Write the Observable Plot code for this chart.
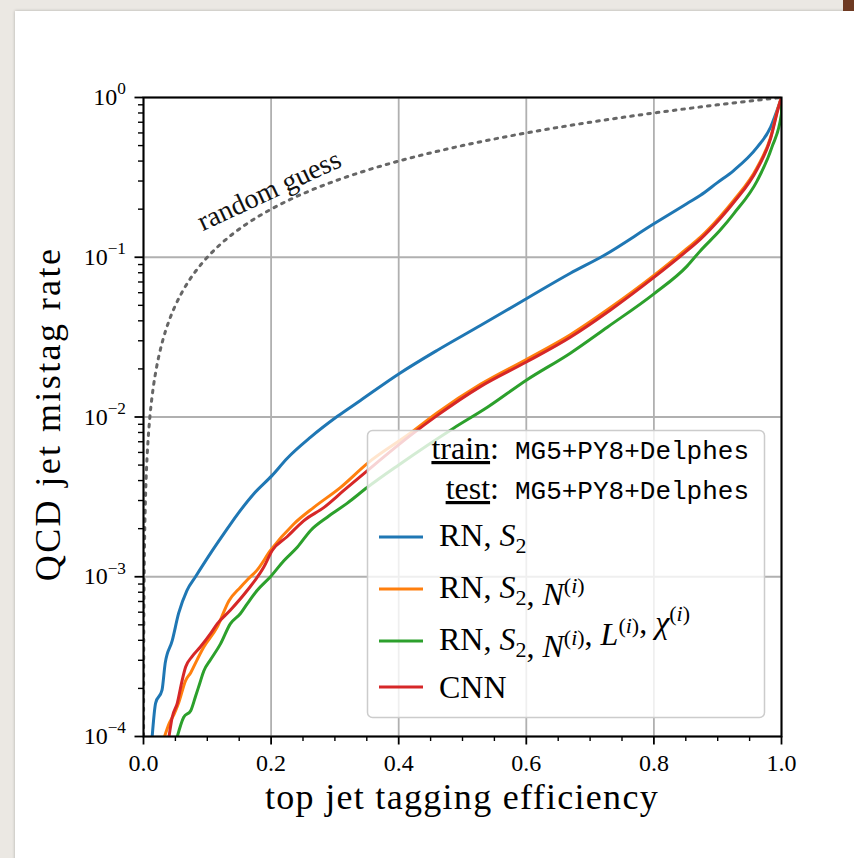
<!DOCTYPE html>
<html><head><meta charset="utf-8">
<script src="https://cdn.jsdelivr.net/npm/d3@7"></script>
<script src="https://cdn.jsdelivr.net/npm/@observablehq/plot@0.6"></script>
<style>
body{margin:0;width:854px;height:858px;overflow:hidden;background:#ebe8e3;position:relative;}
#card{position:absolute;left:15px;top:11px;width:860px;height:870px;background:#fff;box-shadow:0 0 3px rgba(0,0,0,0.25);}
#corner{position:absolute;left:843px;top:0;width:11px;height:11px;background:#6e3a22;}
#chart{position:absolute;left:0;top:0;}
#overlay{position:absolute;left:0;top:0;pointer-events:none;}
</style></head><body>
<div id="card"></div><div id="corner"></div><div id="chart"></div>
<svg id="overlay" width="854" height="858"></svg>
<script>
// ---------- data ----------
const seriesNames = ["RN, S2", "RN, S2, N(i)", "RN, S2, N(i), L(i), chi(i)", "CNN"];
const seriesColors = ["#1f77b4", "#ff7f0e", "#2ca02c", "#d62728"];

const effBlue = [0.0136,0.019,0.029,0.034,0.045,0.055,0.068,0.0815,0.105,0.126,0.147,0.173,0.2017,0.225,0.262,0.304,0.340,0.400,0.460,0.528,0.600,0.669,0.7215,0.80,0.852,0.873,0.899,0.925,0.962,0.983,0.993,1.0];
const mistagBlue = [1.0e-4,1.62e-4,1.95e-4,2.88e-4,3.98e-4,5.89e-4,8.20e-4,1.0e-3,1.40e-3,1.86e-3,2.45e-3,3.31e-3,4.31e-3,5.50e-3,7.48e-3,1.01e-2,1.27e-2,1.86e-2,2.61e-2,3.74e-2,5.50e-2,7.94e-2,0.1026,0.162,0.217,0.244,0.292,0.349,0.489,0.652,0.830,1.0];

const effOrange = [0.033,0.040,0.048,0.055,0.066,0.074,0.084,0.0945,0.1155,0.134,0.152,0.1625,0.178,0.199,0.2356,0.267,0.309,0.351,0.4185,0.460,0.528,0.600,0.669,0.732,0.80,0.852,0.873,0.904,0.925,0.962,0.983,0.995,1.0];
const mistagOrange = [1.0e-4,1.2e-4,1.38e-4,1.62e-4,2.24e-4,2.51e-4,3.02e-4,3.63e-4,4.84e-4,7.08e-4,8.61e-4,9.55e-4,1.10e-3,1.46e-3,2.14e-3,2.72e-3,3.63e-3,5.13e-3,7.94e-3,1.06e-2,1.60e-2,2.29e-2,3.27e-2,4.84e-2,7.69e-2,0.1135,0.1337,0.180,0.2265,0.366,0.565,0.871,1.0];

const effGreen = [0.053,0.063,0.074,0.0815,0.088,0.0945,0.105,0.1207,0.136,0.152,0.1625,0.178,0.199,0.22,0.241,0.262,0.288,0.319,0.351,0.40,0.486,0.539,0.600,0.669,0.727,0.80,0.852,0.873,0.904,0.925,0.962,0.985,1.0,1.0];
const mistagGreen = [1.0e-4,1.32e-4,1.45e-4,1.78e-4,2.14e-4,2.57e-4,3.02e-4,3.80e-4,5.07e-4,5.89e-4,6.76e-4,8.20e-4,1.0e-3,1.26e-3,1.53e-3,1.95e-3,2.36e-3,2.88e-3,3.63e-3,5.01e-3,8.51e-3,1.15e-2,1.70e-2,2.51e-2,3.65e-2,5.90e-2,8.80e-2,0.110,0.148,0.187,0.302,0.489,0.794,1.0];

const effRed = [0.040,0.045,0.053,0.0605,0.066,0.076,0.089,0.105,0.1155,0.136,0.1625,0.1886,0.2017,0.225,0.251,0.283,0.314,0.351,0.4185,0.460,0.528,0.600,0.669,0.732,0.80,0.852,0.873,0.904,0.925,0.962,0.983,0.995,1.0];
const mistagRed = [1.0e-4,1.32e-4,1.62e-4,2.24e-4,2.72e-4,3.16e-4,3.63e-4,4.40e-4,5.07e-4,6.17e-4,8.20e-4,1.15e-3,1.46e-3,1.78e-3,2.24e-3,2.72e-3,3.47e-3,4.62e-3,7.67e-3,1.02e-2,1.55e-2,2.21e-2,3.16e-2,4.68e-2,7.48e-2,0.110,0.130,0.175,0.220,0.357,0.555,0.860,1.0];

const randomEff = [0.0001,0.00015,0.0002,0.0003,0.0005,0.0007,0.001,0.0015,0.002,0.003,0.004,0.005,0.007,0.01,0.013,0.016,0.02,0.025,0.03,0.04,0.05,0.06,0.07,0.08,0.09,0.1,0.12,0.14,0.16,0.18,0.2,0.23,0.26,0.3,0.35,0.4,0.45,0.5,0.55,0.6,0.65,0.7,0.75,0.8,0.85,0.9,0.95,1.0];
const randomMistag = [0.0001,0.00015,0.0002,0.0003,0.0005,0.0007,0.001,0.0015,0.002,0.003,0.004,0.005,0.007,0.01,0.013,0.016,0.02,0.025,0.03,0.04,0.05,0.06,0.07,0.08,0.09,0.1,0.12,0.14,0.16,0.18,0.2,0.23,0.26,0.3,0.35,0.4,0.45,0.5,0.55,0.6,0.65,0.7,0.75,0.8,0.85,0.9,0.95,1.0];

const annotationText = ["random guess"];
const annotationX = [0.197];
const annotationY = [0.262];

const xMajorTicks = [0, 0.2, 0.4, 0.6, 0.8, 1.0];
const xMinorTicks = [0.05,0.1,0.15,0.25,0.3,0.35,0.45,0.5,0.55,0.65,0.7,0.75,0.85,0.9,0.95];
const yMajorTicks = [1e-4, 1e-3, 1e-2, 1e-1, 1];
const yTickExponents = ["\u22124", "\u22123", "\u22122", "\u22121", "0"];
const yMinorTicks = [2e-4,3e-4,4e-4,5e-4,6e-4,7e-4,8e-4,9e-4,2e-3,3e-3,4e-3,5e-3,6e-3,7e-3,8e-3,9e-3,2e-2,3e-2,4e-2,5e-2,6e-2,7e-2,8e-2,9e-2,0.2,0.3,0.4,0.5,0.6,0.7,0.8,0.9];

const xLabel = "top jet tagging efficiency";
const yLabel = "QCD jet mistag rate";
const legendHeaderKeys = ["train", "test"];
const legendHeaderValues = ["MG5+PY8+Delphes", "MG5+PY8+Delphes"];

// ---------- build ----------
const toRows = (xs, ys) => xs.map((x, i) => ({x, y: ys[i]}));
const series = [
  toRows(effBlue, mistagBlue),
  toRows(effOrange, mistagOrange),
  toRows(effGreen, mistagGreen),
  toRows(effRed, mistagRed)
];
const randomRows = toRows(randomEff, randomMistag);
const annotations = annotationText.map((t, i) => ({text: t, x: annotationX[i], y: annotationY[i]}));
const expFor = d => yTickExponents[yMajorTicks.findIndex(v => Math.abs(Math.log10(v) - Math.log10(d)) < 1e-6)];

const plot = Plot.plot({
  width: 854, height: 858,
  marginLeft: 143, marginRight: 73, marginTop: 97, marginBottom: 122,
  style: {background: "transparent", fontFamily: "Liberation Serif", fontSize: "24px", overflow: "visible"},
  x: {domain: [0, 1]},
  y: {type: "log", domain: [1e-4, 1]},
  marks: [
    Plot.gridX(xMajorTicks, {stroke: "#b0b0b0", strokeOpacity: 1, strokeWidth: 1.8}),
    Plot.gridY(yMajorTicks, {stroke: "#b0b0b0", strokeOpacity: 1, strokeWidth: 1.8}),
    Plot.line(randomRows, {x: "x", y: "y", stroke: "#666666", strokeWidth: 3, strokeDasharray: "2.6,6", curve: "monotone-x", clip: true}),
    Plot.text(annotations, {x: "x", y: "y", text: "text", rotate: -25, fontSize: 28, fill: "#111", style: "letter-spacing:0.8px"}),
    ...series.map((rows, i) => Plot.line(rows, {x: "x", y: "y", stroke: seriesColors[i], strokeWidth: 3, curve: "monotone-x", clip: true})),
    Plot.frame({stroke: "black", strokeWidth: 2}),
    Plot.axisX(xMajorTicks, {tickSize: 8.5, tickPadding: 9, fontSize: 24, tickFormat: d3.format(".1f"), label: null, strokeWidth: 1.8}),
    Plot.axisX(xMinorTicks, {tickSize: 5, tickFormat: () => "", label: null, strokeWidth: 1.4}),
    Plot.axisY(yMajorTicks, {tickSize: 8.5, tickPadding: 9, fontSize: 24, tickFormat: d => "10^" + expFor(d), label: null, strokeWidth: 1.8}),
    Plot.axisY(yMinorTicks, {tickSize: 5, tickFormat: () => "", label: null, strokeWidth: 1.4})
  ]
});
document.getElementById("chart").appendChild(plot);

// superscripts on y tick labels
plot.querySelectorAll("text").forEach(t => {
  const s = t.textContent;
  if (s.startsWith("10^")) {
    const exp = s.slice(3);
    t.textContent = "";
    const base = document.createElementNS("http://www.w3.org/2000/svg", "tspan");
    base.textContent = "10";
    const sup = document.createElementNS("http://www.w3.org/2000/svg", "tspan");
    sup.setAttribute("dy", "-0.62em");
    sup.setAttribute("font-size", "0.72em");
    sup.textContent = exp;
    t.appendChild(base); t.appendChild(sup);
  }
});

// ---------- overlay: axis labels & legend ----------
const ov = d3.select("#overlay");
const serif = "Liberation Serif";
ov.append("text").attr("x", 462).attr("y", 809).attr("text-anchor", "middle")
  .attr("font-family", serif).attr("font-size", 36).style("letter-spacing", "1.3px").text(xLabel);
ov.append("text").attr("transform", "translate(60,414) rotate(-90)").attr("text-anchor", "middle")
  .attr("font-family", serif).attr("font-size", 36).style("letter-spacing", "2.4px").text(yLabel);

ov.append("rect").attr("x", 367.5).attr("y", 430.5).attr("width", 397).attr("height", 287).attr("rx", 5)
  .attr("fill", "white").attr("fill-opacity", 0.8).attr("stroke", "#cccccc").attr("stroke-width", 1.5);

const headerBaselines = [459, 499];
legendHeaderKeys.forEach((k, i) => {
  const t = ov.append("text").attr("x", 749).attr("y", headerBaselines[i]).attr("text-anchor", "end")
    .attr("font-family", serif).attr("font-size", 32).attr("xml:space", "preserve");
  t.append("tspan").attr("text-decoration", "underline").text(k);
  t.append("tspan").text(":\u00a0\u00a0");
  t.append("tspan").attr("font-family", "Liberation Mono").attr("font-size", 26).text(legendHeaderValues[i]);
});

const seriesLabelParts = [
  [["RN, "], ["S", "it"], ["2", "sub"]],
  [["RN, "], ["S", "it"], ["2", "sub"], [", "], ["N", "it"], ["i", "sup"]],
  [["RN, "], ["S", "it"], ["2", "sub"], [", "], ["N", "it"], ["i", "sup"], [", "], ["L", "it"], ["i", "sup"], [", "], ["\u03c7", "it"], ["i", "sup"]],
  [["CNN"]]
];
const swatchY = [537, 589, 641, 687];
const labelBaseline = [546, 598, 650, 698];
seriesLabelParts.forEach((parts, i) => {
  ov.append("line").attr("x1", 379).attr("x2", 423).attr("y1", swatchY[i]).attr("y2", swatchY[i])
    .attr("stroke", seriesColors[i]).attr("stroke-width", 3);
  const t = ov.append("text").attr("x", 439).attr("y", labelBaseline[i])
    .attr("font-family", serif).attr("font-size", 32).attr("xml:space", "preserve");
  parts.forEach(([txt, kind]) => {
    if (kind === "it") t.append("tspan").attr("font-style", "italic").text(txt);
    else if (kind === "sub") {
      t.append("tspan").attr("dy", 7).attr("font-size", 22).text(txt);
      t.append("tspan").attr("dy", -7).text("");
    } else if (kind === "sup") {
      t.append("tspan").attr("dy", -12).attr("font-size", 22).text("(");
      t.append("tspan").attr("font-size", 22).attr("font-style", "italic").text(txt);
      t.append("tspan").attr("font-size", 22).text(")");
      t.append("tspan").attr("dy", 12).text("");
    } else t.append("tspan").text(txt);
  });
});
</script></body></html>
